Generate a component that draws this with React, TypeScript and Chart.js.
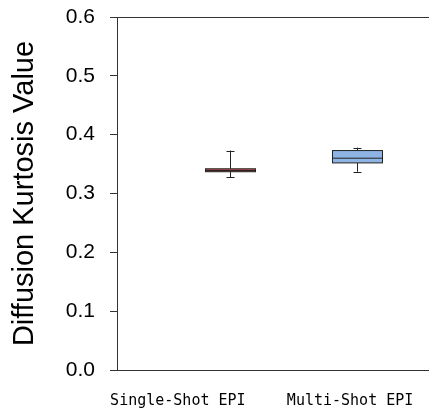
import React, { useEffect, useRef } from "react";
import { Chart, registerables } from "chart.js";

Chart.register(...registerables);

const categories = ["Single-Shot EPI", "Multi-Shot EPI"];
const labelPositions = [0.195, 0.747];
const boxPositions = [0.361, 0.769];
const mins = [0.328, 0.337];
const q1s = [0.337, 0.352];
const medians = [0.339, 0.36];
const q3s = [0.342, 0.373];
const maxs = [0.373, 0.378];
const boxColors = ["#c0504d", "#8db4e2"];
const yTicks = [0, 0.1, 0.2, 0.3, 0.4, 0.5, 0.6];

const frameTopPlugin = {
  id: "frameTop",
  afterDraw(chart: any) {
    const { ctx, chartArea } = chart;
    ctx.save();
    ctx.strokeStyle = "#333";
    ctx.lineWidth = 1;
    ctx.beginPath();
    const y = Math.round(chartArea.top) + 0.5;
    ctx.moveTo(chartArea.left, y);
    ctx.lineTo(chartArea.right, y);
    ctx.stroke();
    ctx.restore();
  },
};

const boxPlugin = {
  id: "boxPlot",
  afterDatasetsDraw(chart: any) {
    const { ctx } = chart;
    const xs = chart.scales.x;
    const ys = chart.scales.y;
    const halfW = 25;
    const capW = 4;
    ctx.save();
    ctx.lineWidth = 1;
    ctx.strokeStyle = "#222";
    for (let i = 0; i < categories.length; i++) {
      const cx = Math.round(xs.getPixelForValue(boxPositions[i])) + 0.5;
      const yMin = ys.getPixelForValue(mins[i]);
      const yQ1 = ys.getPixelForValue(q1s[i]);
      const yMed = ys.getPixelForValue(medians[i]);
      const yQ3 = ys.getPixelForValue(q3s[i]);
      const yMax = ys.getPixelForValue(maxs[i]);
      ctx.beginPath();
      ctx.moveTo(cx, yMax);
      ctx.lineTo(cx, yQ3);
      ctx.moveTo(cx, yQ1);
      ctx.lineTo(cx, yMin);
      ctx.moveTo(cx - capW, Math.round(yMax) + 0.5);
      ctx.lineTo(cx + capW, Math.round(yMax) + 0.5);
      ctx.moveTo(cx - capW, Math.round(yMin) + 0.5);
      ctx.lineTo(cx + capW, Math.round(yMin) + 0.5);
      ctx.stroke();
      ctx.fillStyle = boxColors[i];
      ctx.fillRect(cx - halfW, yQ3, halfW * 2, yQ1 - yQ3);
      ctx.strokeRect(cx - halfW, yQ3, halfW * 2, yQ1 - yQ3);
      ctx.beginPath();
      ctx.moveTo(cx - halfW, yMed);
      ctx.lineTo(cx + halfW, yMed);
      ctx.stroke();
    }
    ctx.restore();
  },
};

export default function App() {
  const ref = useRef<HTMLCanvasElement>(null);
  useEffect(() => {
    const chart = new Chart(ref.current!, {
      type: "scatter",
      data: { datasets: [{ data: [], pointRadius: 0 }] },
      options: {
        animation: false,
        responsive: false,
        events: [],
        layout: { padding: { left: 0, right: 0, top: 17, bottom: 0 } },
        plugins: { legend: { display: false }, tooltip: { enabled: false } },
        scales: {
          x: {
            type: "linear",
            min: 0,
            max: 1,
            afterBuildTicks: (s: any) => {
              s.ticks = labelPositions.map((v) => ({ value: v }));
            },
            afterFit: (s: any) => {
              s.height = 47;
              s.paddingLeft = 0;
              s.paddingRight = 0;
            },
            ticks: {
              autoSkip: false,
              maxRotation: 0,
              padding: 22,
              color: "#000",
              font: { family: "DejaVu Sans Mono", size: 15 },
              callback: (_v: any, i: number) => categories[i],
            },
            grid: { display: false, drawTicks: false },
            border: { display: true, color: "#333", width: 1 },
          },
          y: {
            type: "linear",
            min: 0,
            max: 0.6,
            afterBuildTicks: (s: any) => {
              s.ticks = yTicks.map((v) => ({ value: v }));
            },
            afterFit: (s: any) => {
              s.width = 117;
              s.paddingTop = 0;
              s.paddingBottom = 0;
            },
            ticks: {
              padding: 15,
              color: "#000",
              font: { family: "Liberation Sans", size: 21 },
              callback: (v: any) => Number(v).toFixed(1),
            },
            grid: {
              drawOnChartArea: false,
              drawTicks: true,
              tickLength: 7,
              color: "#333",
            },
            border: { display: true, color: "#333", width: 1 },
            title: {
              display: true,
              text: "Diffusion Kurtosis Value",
              color: "#000",
              font: { family: "Liberation Sans", size: 29, lineHeight: 1.2 },
              padding: { top: 8, bottom: 0 },
            },
          },
        },
      },
      plugins: [boxPlugin, frameTopPlugin],
    });
    return () => chart.destroy();
  }, []);
  return (
    <div style={{ position: "fixed", left: 0, top: 0, width: 429, height: 417, background: "#fff" }}>
      <canvas ref={ref} width={429} height={417} />
    </div>
  );
}
